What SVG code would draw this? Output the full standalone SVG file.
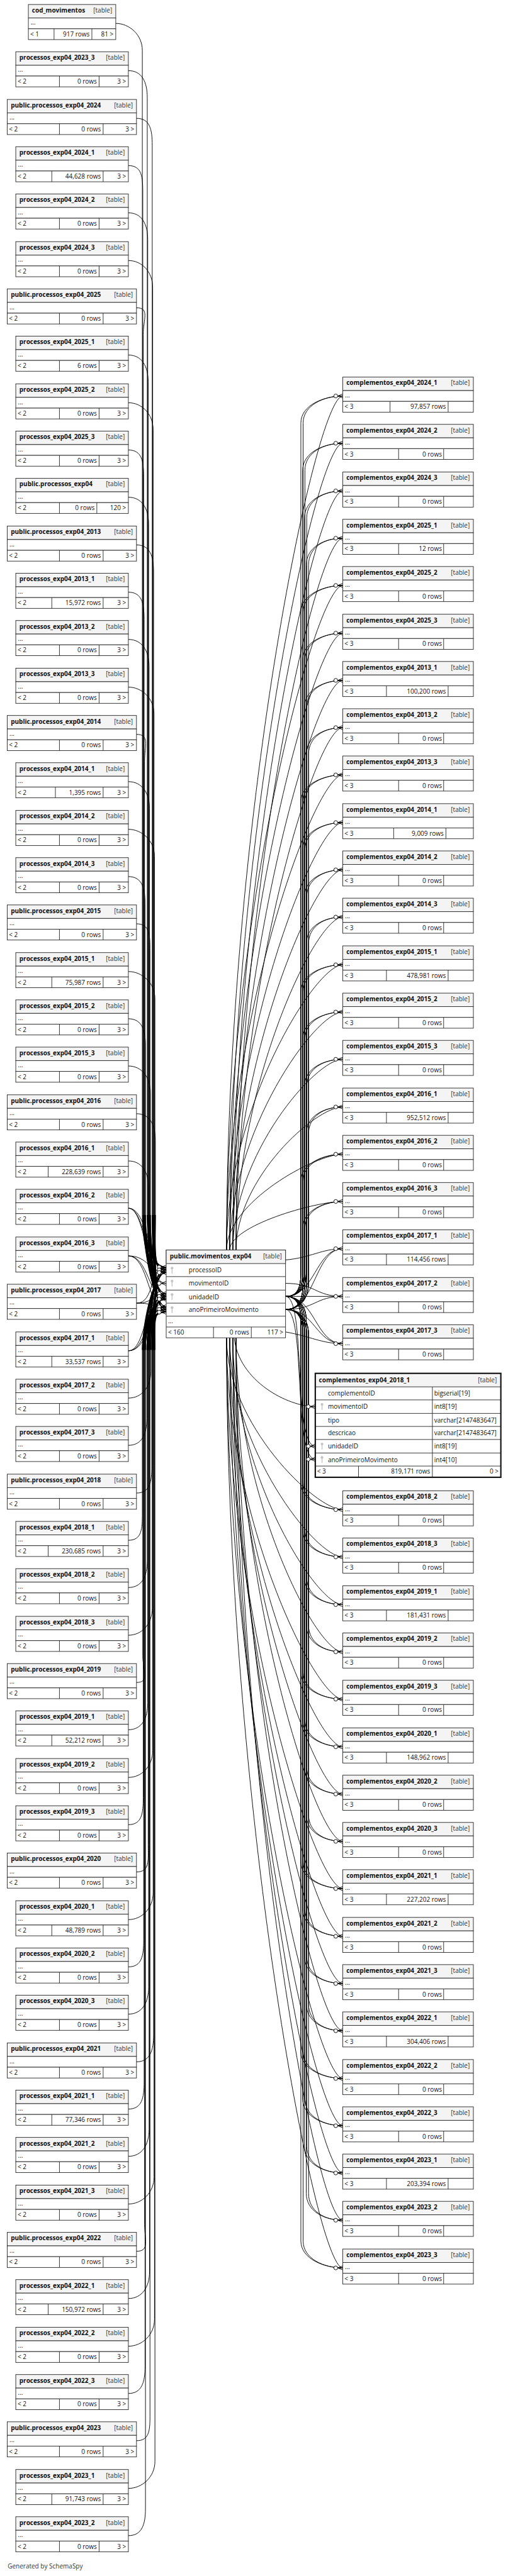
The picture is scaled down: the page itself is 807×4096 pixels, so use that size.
<svg xmlns="http://www.w3.org/2000/svg" xmlns:xlink="http://www.w3.org/1999/xlink" width="807" height="4096" viewBox="0 0 807 4096">
<style>
.h{fill:#f4f4f4;stroke:#2b2b2b;stroke-width:1.3}
.b{fill:#fff;stroke:#2b2b2b;stroke-width:1.3}
.s{fill:none;stroke:#2b2b2b;stroke-width:1.3}
text{font-family:"Open Sans","Noto Sans","Liberation Sans",sans-serif;font-size:14px;fill:#111}
.n{font-weight:bold}
.e{text-anchor:end}
.k{text-anchor:end;fill:#333}
#connectors path{fill:none;stroke:#000;stroke-width:1.3}
</style>
<defs>
<g id="FP0"><rect class="h" width="250" height="30"/><rect class="b" y="30" width="250" height="24"/><rect class="b" y="54" width="250" height="24"/><path class="s" d="M97,54v24M185,54v24"/></g>
<g id="FPN"><rect class="h" width="250" height="30"/><rect class="b" y="30" width="250" height="24"/><rect class="b" y="54" width="250" height="24"/><path class="s" d="M80,54v24M194,54v24"/></g>
<g id="FP6"><rect class="h" width="250" height="30"/><rect class="b" y="30" width="250" height="24"/><rect class="b" y="54" width="250" height="24"/><path class="s" d="M72,54v24M194,54v24"/></g>
<g id="FP4"><rect class="h" width="250" height="30"/><rect class="b" y="30" width="250" height="24"/><rect class="b" y="54" width="250" height="24"/><path class="s" d="M88,54v24M194,54v24"/></g>
<g id="FPX"><rect class="h" width="250" height="30"/><rect class="b" y="30" width="250" height="24"/><rect class="b" y="54" width="250" height="24"/><path class="s" d="M97,54v24M180,54v24"/></g>
<g id="FQ"><rect class="h" width="287" height="30"/><rect class="b" y="30" width="287" height="24"/><rect class="b" y="54" width="287" height="24"/><path class="s" d="M116,54v24M213,54v24"/></g>
<g id="FCOD"><rect class="h" width="194" height="30"/><rect class="b" y="30" width="194" height="24"/><rect class="b" y="54" width="194" height="24"/><path class="s" d="M57,54v24M141,54v24"/></g>
<g id="FC0"><rect class="h" width="290" height="30"/><rect class="b" y="30" width="290" height="24"/><rect class="b" y="54" width="290" height="24"/><path class="s" d="M124,54v24M224,54v24"/></g>
<g id="FCN"><rect class="h" width="290" height="30"/><rect class="b" y="30" width="290" height="24"/><rect class="b" y="54" width="290" height="24"/><path class="s" d="M105,54v24M234,54v24"/></g>
<g id="FC6"><rect class="h" width="290" height="30"/><rect class="b" y="30" width="290" height="24"/><rect class="b" y="54" width="290" height="24"/><path class="s" d="M97,54v24M234,54v24"/></g>
<g id="FC4"><rect class="h" width="290" height="30"/><rect class="b" y="30" width="290" height="24"/><rect class="b" y="54" width="290" height="24"/><path class="s" d="M113,54v24M229,54v24"/></g>
<g id="cf"><path d="M0,-4.5L-11,0L0,4.5M-11,0H0" fill="none" stroke="#000" stroke-width="1.3"/><circle cx="-15.5" cy="0" r="4.3" fill="#fff" stroke="#000" stroke-width="1.3"/></g>
<g id="key" fill="#c4c4c4"><circle cx="0" cy="0" r="3"/><rect x="-1" y="1" width="2" height="11"/></g>
</defs>
<rect width="807" height="4096" fill="#fff"/>
<g transform="scale(0.7155)">
<g id="connectors">
<path d="M257,52C287,52 316,77 316,112V2700C316,2780 340,2852 369,2852"/>
<path d="M285,157C315,157 327,182 327,217V2700C327,2770 340,2822 369,2822M327,2700C327,2770 340,2881 369,2881M327,2700C327,2770 340,2910 369,2910"/>
<path d="M303,263C333,263 338,288 338,323V2700C338,2770 340,2828 369,2828M338,2700C338,2770 340,2887 369,2887M338,2700C338,2770 340,2916 369,2916"/>
<path d="M285,368C315,368 317,393 317,428V2700C317,2770 340,2816 369,2816M317,2700C317,2770 340,2875 369,2875M317,2700C317,2770 340,2904 369,2904"/>
<path d="M285,473C315,473 328,498 328,533V2700C328,2770 340,2822 369,2822M328,2700C328,2770 340,2881 369,2881M328,2700C328,2770 340,2910 369,2910"/>
<path d="M285,579C315,579 339,604 339,639V2700C339,2770 340,2828 369,2828M339,2700C339,2770 340,2887 369,2887M339,2700C339,2770 340,2916 369,2916"/>
<path d="M303,684C333,684 318,709 318,744V2700C318,2770 340,2816 369,2816M318,2700C318,2770 340,2875 369,2875M318,2700C318,2770 340,2904 369,2904"/>
<path d="M285,789C315,789 329,814 329,849V2700C329,2770 340,2822 369,2822M329,2700C329,2770 340,2881 369,2881M329,2700C329,2770 340,2910 369,2910"/>
<path d="M285,895C315,895 340,920 340,955V2700C340,2770 340,2828 369,2828M340,2700C340,2770 340,2887 369,2887M340,2700C340,2770 340,2916 369,2916"/>
<path d="M285,1000C315,1000 319,1025 319,1060V2700C319,2770 340,2816 369,2816M319,2700C319,2770 340,2875 369,2875M319,2700C319,2770 340,2904 369,2904"/>
<path d="M285,1105C315,1105 330,1130 330,1165V2700C330,2770 340,2822 369,2822M330,2700C330,2770 340,2881 369,2881M330,2700C330,2770 340,2910 369,2910"/>
<path d="M303,1211C333,1211 341,1236 341,1271V2700C341,2770 340,2828 369,2828M341,2700C341,2770 340,2887 369,2887M341,2700C341,2770 340,2916 369,2916"/>
<path d="M285,1316C315,1316 320,1341 320,1376V2700C320,2770 340,2816 369,2816M320,2700C320,2770 340,2875 369,2875M320,2700C320,2770 340,2904 369,2904"/>
<path d="M285,1421C315,1421 331,1446 331,1481V2700C331,2770 340,2822 369,2822M331,2700C331,2770 340,2881 369,2881M331,2700C331,2770 340,2910 369,2910"/>
<path d="M285,1527C315,1527 342,1552 342,1587V2700C342,2770 340,2828 369,2828M342,2700C342,2770 340,2887 369,2887M342,2700C342,2770 340,2916 369,2916"/>
<path d="M303,1632C333,1632 321,1657 321,1692V2700C321,2770 340,2816 369,2816M321,2700C321,2770 340,2875 369,2875M321,2700C321,2770 340,2904 369,2904"/>
<path d="M285,1737C315,1737 332,1762 332,1797V2700C332,2770 340,2822 369,2822M332,2700C332,2770 340,2881 369,2881M332,2700C332,2770 340,2910 369,2910"/>
<path d="M285,1843C315,1843 343,1868 343,1903V2700C343,2770 340,2828 369,2828M343,2700C343,2770 340,2887 369,2887M343,2700C343,2770 340,2916 369,2916"/>
<path d="M285,1948C315,1948 322,1973 322,2008V2700C322,2770 340,2816 369,2816M322,2700C322,2770 340,2875 369,2875M322,2700C322,2770 340,2904 369,2904"/>
<path d="M303,2053C333,2053 333,2078 333,2113V2700C333,2770 340,2822 369,2822M333,2700C333,2770 340,2881 369,2881M333,2700C333,2770 340,2910 369,2910"/>
<path d="M285,2159C315,2159 344,2184 344,2219V2700C344,2770 340,2828 369,2828M344,2700C344,2770 340,2887 369,2887M344,2700C344,2770 340,2916 369,2916"/>
<path d="M285,2264C315,2264 323,2289 323,2324V2700C323,2770 340,2816 369,2816M323,2700C323,2770 340,2875 369,2875M323,2700C323,2770 340,2904 369,2904"/>
<path d="M285,2369C315,2369 334,2394 334,2429V2700C334,2770 340,2822 369,2822M334,2700C334,2770 340,2881 369,2881M334,2700C334,2770 340,2910 369,2910"/>
<path d="M303,2475C333,2475 345,2500 345,2535V2700C345,2770 340,2828 369,2828M345,2700C345,2770 340,2887 369,2887M345,2700C345,2770 340,2916 369,2916"/>
<path d="M285,2580C315,2580 330,2605 330,2640V2700C330,2770 340,2816 369,2816M330,2700C330,2770 340,2875 369,2875M330,2700C330,2770 340,2904 369,2904"/>
<path d="M285,2685C330,2685 330,2822 369,2822M285,2685C330,2685 330,2881 369,2881M285,2685C330,2685 330,2910 369,2910"/>
<path d="M285,2791C330,2791 330,2828 369,2828M285,2791C330,2791 330,2887 369,2887M285,2791C330,2791 330,2916 369,2916"/>
<path d="M303,2896C345,2896 330,2816 369,2816M303,2896C345,2896 330,2875 369,2875M303,2896C345,2896 330,2904 369,2904"/>
<path d="M285,3002C330,3002 330,2822 369,2822M285,3002C330,3002 330,2881 369,2881M285,3002C330,3002 330,2910 369,2910"/>
<path d="M285,3107C315,3107 335,3082 335,3047V3000C335,2940 340,2828 369,2828M335,3000C335,2940 340,2887 369,2887M335,3000C335,2940 340,2916 369,2916"/>
<path d="M285,3212C315,3212 326,3187 326,3152V3000C326,2940 340,2816 369,2816M326,3000C326,2940 340,2875 369,2875M326,3000C326,2940 340,2904 369,2904"/>
<path d="M303,3318C333,3318 337,3293 337,3258V3000C337,2940 340,2822 369,2822M337,3000C337,2940 340,2881 369,2881M337,3000C337,2940 340,2910 369,2910"/>
<path d="M285,3423C315,3423 316,3398 316,3363V3000C316,2940 340,2828 369,2828M316,3000C316,2940 340,2887 369,2887M316,3000C316,2940 340,2916 369,2916"/>
<path d="M285,3528C315,3528 327,3503 327,3468V3000C327,2940 340,2816 369,2816M327,3000C327,2940 340,2875 369,2875M327,3000C327,2940 340,2904 369,2904"/>
<path d="M285,3634C315,3634 338,3609 338,3574V3000C338,2940 340,2822 369,2822M338,3000C338,2940 340,2881 369,2881M338,3000C338,2940 340,2910 369,2910"/>
<path d="M303,3739C333,3739 317,3714 317,3679V3000C317,2940 340,2828 369,2828M317,3000C317,2940 340,2887 369,2887M317,3000C317,2940 340,2916 369,2916"/>
<path d="M285,3844C315,3844 328,3819 328,3784V3000C328,2940 340,2816 369,2816M328,3000C328,2940 340,2875 369,2875M328,3000C328,2940 340,2904 369,2904"/>
<path d="M285,3950C315,3950 339,3925 339,3890V3000C339,2940 340,2822 369,2822M339,3000C339,2940 340,2881 369,2881M339,3000C339,2940 340,2910 369,2910"/>
<path d="M285,4055C315,4055 318,4030 318,3995V3000C318,2940 340,2828 369,2828M318,3000C318,2940 340,2887 369,2887M318,3000C318,2940 340,2916 369,2916"/>
<path d="M303,4160C333,4160 329,4135 329,4100V3000C329,2940 340,2816 369,2816M329,3000C329,2940 340,2875 369,2875M329,3000C329,2940 340,2904 369,2904"/>
<path d="M285,4266C315,4266 340,4241 340,4206V3000C340,2940 340,2822 369,2822M340,3000C340,2940 340,2881 369,2881M340,3000C340,2940 340,2910 369,2910"/>
<path d="M285,4371C315,4371 319,4346 319,4311V3000C319,2940 340,2828 369,2828M319,3000C319,2940 340,2887 369,2887M319,3000C319,2940 340,2916 369,2916"/>
<path d="M285,4476C315,4476 330,4451 330,4416V3000C330,2940 340,2816 369,2816M330,3000C330,2940 340,2875 369,2875M330,3000C330,2940 340,2904 369,2904"/>
<path d="M303,4582C333,4582 341,4557 341,4522V3000C341,2940 340,2822 369,2822M341,3000C341,2940 340,2881 369,2881M341,3000C341,2940 340,2910 369,2910"/>
<path d="M285,4687C315,4687 320,4662 320,4627V3000C320,2940 340,2828 369,2828M320,3000C320,2940 340,2887 369,2887M320,3000C320,2940 340,2916 369,2916"/>
<path d="M285,4792C315,4792 331,4767 331,4732V3000C331,2940 340,2816 369,2816M331,3000C331,2940 340,2875 369,2875M331,3000C331,2940 340,2904 369,2904"/>
<path d="M285,4898C315,4898 342,4873 342,4838V3000C342,2940 340,2822 369,2822M342,3000C342,2940 340,2881 369,2881M342,3000C342,2940 340,2910 369,2910"/>
<path d="M303,5003C333,5003 321,4978 321,4943V3000C321,2940 340,2828 369,2828M321,3000C321,2940 340,2887 369,2887M321,3000C321,2940 340,2916 369,2916"/>
<path d="M285,5108C315,5108 332,5083 332,5048V3000C332,2940 340,2816 369,2816M332,3000C332,2940 340,2875 369,2875M332,3000C332,2940 340,2904 369,2904"/>
<path d="M285,5214C315,5214 343,5189 343,5154V3000C343,2940 340,2822 369,2822M343,3000C343,2940 340,2881 369,2881M343,3000C343,2940 340,2910 369,2910"/>
<path d="M285,5319C315,5319 322,5294 322,5259V3000C322,2940 340,2828 369,2828M322,3000C322,2940 340,2887 369,2887M322,3000C322,2940 340,2916 369,2916"/>
<path d="M303,5424C333,5424 333,5399 333,5364V3000C333,2940 340,2816 369,2816M333,3000C333,2940 340,2875 369,2875M333,3000C333,2940 340,2904 369,2904"/>
<path d="M285,5530C315,5530 344,5505 344,5470V3000C344,2940 340,2822 369,2822M344,3000C344,2940 340,2881 369,2881M344,3000C344,2940 340,2910 369,2910"/>
<path d="M285,5635C315,5635 323,5610 323,5575V3000C323,2940 340,2828 369,2828M323,3000C323,2940 340,2887 369,2887M323,3000C323,2940 340,2916 369,2916"/>
<path d="M503,2778C503,1829 700,880 761,880M634,2881C655,2881 668,2870 668,2830V940C668,900 720,880 761,880M634,2910C658,2910 673,2895 673,2850V940C673,900 720,880 761,880"/>
<path d="M510,2778C510,1882 700,985 761,985M634,2881C655,2881 672,2870 672,2830V1045C672,1005 720,985 761,985M634,2910C658,2910 677,2895 677,2850V1045C677,1005 720,985 761,985"/>
<path d="M517,2778C517,1935 700,1091 761,1091M634,2881C655,2881 676,2870 676,2830V1151C676,1111 720,1091 761,1091M634,2910C658,2910 681,2895 681,2850V1151C681,1111 720,1091 761,1091"/>
<path d="M524,2778C524,1987 700,1196 761,1196M634,2881C655,2881 680,2870 680,2830V1256C680,1216 720,1196 761,1196M634,2910C658,2910 685,2895 685,2850V1256C685,1216 720,1196 761,1196"/>
<path d="M503,2778C503,2040 700,1301 761,1301M634,2881C655,2881 668,2870 668,2830V1361C668,1321 720,1301 761,1301M634,2910C658,2910 673,2895 673,2850V1361C673,1321 720,1301 761,1301"/>
<path d="M510,2778C510,2093 700,1407 761,1407M634,2881C655,2881 672,2870 672,2830V1467C672,1427 720,1407 761,1407M634,2910C658,2910 677,2895 677,2850V1467C677,1427 720,1407 761,1407"/>
<path d="M517,2778C517,2145 700,1512 761,1512M634,2881C655,2881 676,2870 676,2830V1572C676,1532 720,1512 761,1512M634,2910C658,2910 681,2895 681,2850V1572C681,1532 720,1512 761,1512"/>
<path d="M524,2778C524,2198 700,1617 761,1617M634,2881C655,2881 680,2870 680,2830V1677C680,1637 720,1617 761,1617M634,2910C658,2910 685,2895 685,2850V1677C685,1637 720,1617 761,1617"/>
<path d="M503,2778C503,2250 700,1722 761,1722M634,2881C655,2881 668,2870 668,2830V1782C668,1742 720,1722 761,1722M634,2910C658,2910 673,2895 673,2850V1782C673,1742 720,1722 761,1722"/>
<path d="M510,2778C510,2303 700,1828 761,1828M634,2881C655,2881 672,2870 672,2830V1888C672,1848 720,1828 761,1828M634,2910C658,2910 677,2895 677,2850V1888C677,1848 720,1828 761,1828"/>
<path d="M517,2778C517,2356 700,1933 761,1933M634,2881C655,2881 676,2870 676,2830V1993C676,1953 720,1933 761,1933M634,2910C658,2910 681,2895 681,2850V1993C681,1953 720,1933 761,1933"/>
<path d="M524,2778C524,2408 700,2038 761,2038M634,2881C655,2881 680,2870 680,2830V2098C680,2058 720,2038 761,2038M634,2910C658,2910 685,2895 685,2850V2098C685,2058 720,2038 761,2038"/>
<path d="M503,2778C503,2461 700,2144 761,2144M634,2881C655,2881 668,2870 668,2830V2204C668,2164 720,2144 761,2144M634,2910C658,2910 673,2895 673,2850V2204C673,2164 720,2144 761,2144"/>
<path d="M510,2778C510,2514 700,2249 761,2249M634,2881C655,2881 672,2870 672,2830V2309C672,2269 720,2249 761,2249M634,2910C658,2910 677,2895 677,2850V2309C677,2269 720,2249 761,2249"/>
<path d="M517,2778C517,2566 700,2354 761,2354M634,2881C655,2881 676,2870 676,2830V2414C676,2374 720,2354 761,2354M634,2910C658,2910 681,2895 681,2850V2414C681,2374 720,2354 761,2354"/>
<path d="M524,2778C524,2619 700,2460 761,2460M634,2881C655,2881 680,2870 680,2830V2520C680,2480 720,2460 761,2460M634,2910C658,2910 685,2895 685,2850V2520C685,2480 720,2460 761,2460"/>
<path d="M503,2778C503,2672 700,2565 761,2565M634,2881C655,2881 668,2870 668,2830V2625C668,2585 720,2565 761,2565M634,2910C658,2910 673,2895 673,2850V2625C673,2585 720,2565 761,2565"/>
<path d="M510,2778C510,2724 700,2670 761,2670M634,2881C655,2881 672,2870 672,2830V2730C672,2690 720,2670 761,2670M634,2910C658,2910 677,2895 677,2850V2730C677,2690 720,2670 761,2670"/>
<path d="M634,2800C690,2795 715,2775 761,2775M634,2881C700,2881 700,2775 761,2775M634,2910C700,2910 700,2775 761,2775"/>
<path d="M634,2852C700,2852 700,2881 761,2881M634,2881H761M634,2910C700,2910 700,2881 761,2881"/>
<path d="M634,2960C690,2970 715,2986 761,2986M634,2881C700,2881 700,2986 761,2986M634,2910C700,2910 700,2986 761,2986"/>
<path d="M520,2973C530,3070 640,3126 700,3126M634,2881C680,2881 650,3214 700,3214M634,2910C680,2910 650,3243 700,3243"/>
<path d="M503,2973C503,3164 700,3355 761,3355M634,2881C655,2881 668,2895 668,2935V3295C668,3335 720,3355 761,3355M634,2910C658,2910 673,2925 673,2965V3295C673,3335 720,3355 761,3355"/>
<path d="M510,2973C510,3217 700,3460 761,3460M634,2881C655,2881 672,2895 672,2935V3400C672,3440 720,3460 761,3460M634,2910C658,2910 677,2925 677,2965V3400C677,3440 720,3460 761,3460"/>
<path d="M517,2973C517,3270 700,3566 761,3566M634,2881C655,2881 676,2895 676,2935V3506C676,3546 720,3566 761,3566M634,2910C658,2910 681,2925 681,2965V3506C681,3546 720,3566 761,3566"/>
<path d="M524,2973C524,3322 700,3671 761,3671M634,2881C655,2881 680,2895 680,2935V3611C680,3651 720,3671 761,3671M634,2910C658,2910 685,2925 685,2965V3611C685,3651 720,3671 761,3671"/>
<path d="M503,2973C503,3375 700,3776 761,3776M634,2881C655,2881 668,2895 668,2935V3716C668,3756 720,3776 761,3776M634,2910C658,2910 673,2925 673,2965V3716C673,3756 720,3776 761,3776"/>
<path d="M510,2973C510,3428 700,3882 761,3882M634,2881C655,2881 672,2895 672,2935V3822C672,3862 720,3882 761,3882M634,2910C658,2910 677,2925 677,2965V3822C677,3862 720,3882 761,3882"/>
<path d="M517,2973C517,3480 700,3987 761,3987M634,2881C655,2881 676,2895 676,2935V3927C676,3967 720,3987 761,3987M634,2910C658,2910 681,2925 681,2965V3927C681,3967 720,3987 761,3987"/>
<path d="M524,2973C524,3533 700,4092 761,4092M634,2881C655,2881 680,2895 680,2935V4032C680,4072 720,4092 761,4092M634,2910C658,2910 685,2925 685,2965V4032C685,4072 720,4092 761,4092"/>
<path d="M503,2973C503,3585 700,4197 761,4197M634,2881C655,2881 668,2895 668,2935V4137C668,4177 720,4197 761,4197M634,2910C658,2910 673,2925 673,2965V4137C673,4177 720,4197 761,4197"/>
<path d="M510,2973C510,3638 700,4303 761,4303M634,2881C655,2881 672,2895 672,2935V4243C672,4283 720,4303 761,4303M634,2910C658,2910 677,2925 677,2965V4243C677,4283 720,4303 761,4303"/>
<path d="M517,2973C517,3691 700,4408 761,4408M634,2881C655,2881 676,2895 676,2935V4348C676,4388 720,4408 761,4408M634,2910C658,2910 681,2925 681,2965V4348C681,4388 720,4408 761,4408"/>
<path d="M524,2973C524,3743 700,4513 761,4513M634,2881C655,2881 680,2895 680,2935V4453C680,4493 720,4513 761,4513M634,2910C658,2910 685,2925 685,2965V4453C685,4493 720,4513 761,4513"/>
<path d="M503,2973C503,3796 700,4619 761,4619M634,2881C655,2881 668,2895 668,2935V4559C668,4599 720,4619 761,4619M634,2910C658,2910 673,2925 673,2965V4559C673,4599 720,4619 761,4619"/>
<path d="M510,2973C510,3849 700,4724 761,4724M634,2881C655,2881 672,2895 672,2935V4664C672,4704 720,4724 761,4724M634,2910C658,2910 677,2925 677,2965V4664C677,4704 720,4724 761,4724"/>
<path d="M517,2973C517,3901 700,4829 761,4829M634,2881C655,2881 676,2895 676,2935V4769C676,4809 720,4829 761,4829M634,2910C658,2910 681,2925 681,2965V4769C681,4809 720,4829 761,4829"/>
<path d="M524,2973C524,3954 700,4934 761,4934M634,2881C655,2881 680,2895 680,2935V4874C680,4914 720,4934 761,4934M634,2910C658,2910 685,2925 685,2965V4874C685,4914 720,4934 761,4934"/>
<path d="M503,2973C503,4007 700,5040 761,5040M634,2881C655,2881 668,2895 668,2935V4980C668,5020 720,5040 761,5040M634,2910C658,2910 673,2925 673,2965V4980C673,5020 720,5040 761,5040"/>
<use href="#cf" x="369" y="2816"/><use href="#cf" x="369" y="2822"/><use href="#cf" x="369" y="2828"/><use href="#cf" x="369" y="2852"/><use href="#cf" x="369" y="2875"/><use href="#cf" x="369" y="2881"/><use href="#cf" x="369" y="2887"/><use href="#cf" x="369" y="2904"/><use href="#cf" x="369" y="2910"/><use href="#cf" x="369" y="2916"/>
<use href="#cf" x="761" y="880"/><use href="#cf" x="761" y="985"/><use href="#cf" x="761" y="1091"/><use href="#cf" x="761" y="1196"/><use href="#cf" x="761" y="1301"/><use href="#cf" x="761" y="1407"/><use href="#cf" x="761" y="1512"/><use href="#cf" x="761" y="1617"/><use href="#cf" x="761" y="1722"/><use href="#cf" x="761" y="1828"/><use href="#cf" x="761" y="1933"/><use href="#cf" x="761" y="2038"/><use href="#cf" x="761" y="2144"/><use href="#cf" x="761" y="2249"/><use href="#cf" x="761" y="2354"/><use href="#cf" x="761" y="2460"/><use href="#cf" x="761" y="2565"/><use href="#cf" x="761" y="2670"/><use href="#cf" x="761" y="2775"/><use href="#cf" x="761" y="2881"/><use href="#cf" x="761" y="2986"/>
<use href="#cf" x="700" y="3126"/><use href="#cf" x="700" y="3214"/><use href="#cf" x="700" y="3243"/>
<use href="#cf" x="761" y="3355"/><use href="#cf" x="761" y="3460"/><use href="#cf" x="761" y="3566"/><use href="#cf" x="761" y="3671"/><use href="#cf" x="761" y="3776"/><use href="#cf" x="761" y="3882"/><use href="#cf" x="761" y="3987"/><use href="#cf" x="761" y="4092"/><use href="#cf" x="761" y="4197"/><use href="#cf" x="761" y="4303"/><use href="#cf" x="761" y="4408"/><use href="#cf" x="761" y="4513"/><use href="#cf" x="761" y="4619"/><use href="#cf" x="761" y="4724"/><use href="#cf" x="761" y="4829"/><use href="#cf" x="761" y="4934"/><use href="#cf" x="761" y="5040"/>
</g>
<g id="nodes">
<g id="cod_movimentos" transform="translate(63,10)"><use href="#FCOD"/><text class="n" x="8" y="18">cod_movimentos</text><text class="k" x="186" y="18">[table]</text><text x="5" y="45">...</text><text x="4" y="71">&lt; 1</text><text class="e" x="136" y="71">917 rows</text><text class="e" x="189" y="71">81 &gt;</text></g>
<g id="processos_exp04_2023_3" transform="translate(35,115)"><use href="#FP0"/><text class="n" x="8" y="18">processos_exp04_2023_3</text><text class="k" x="242" y="18">[table]</text><text x="5" y="45">...</text><text x="4" y="71">&lt; 2</text><text class="e" x="180" y="71">0 rows</text><text class="e" x="245" y="71">3 &gt;</text></g>
<g id="public.processos_exp04_2024" transform="translate(16,221)"><use href="#FQ"/><text class="n" x="8" y="18">public.processos_exp04_2024</text><text class="k" x="279" y="18">[table]</text><text x="5" y="45">...</text><text x="4" y="71">&lt; 2</text><text class="e" x="208" y="71">0 rows</text><text class="e" x="282" y="71">3 &gt;</text></g>
<g id="processos_exp04_2024_1" transform="translate(35,326)"><use href="#FPN"/><text class="n" x="8" y="18">processos_exp04_2024_1</text><text class="k" x="242" y="18">[table]</text><text x="5" y="45">...</text><text x="4" y="71">&lt; 2</text><text class="e" x="189" y="71">44,628 rows</text><text class="e" x="245" y="71">3 &gt;</text></g>
<g id="processos_exp04_2024_2" transform="translate(35,431)"><use href="#FP0"/><text class="n" x="8" y="18">processos_exp04_2024_2</text><text class="k" x="242" y="18">[table]</text><text x="5" y="45">...</text><text x="4" y="71">&lt; 2</text><text class="e" x="180" y="71">0 rows</text><text class="e" x="245" y="71">3 &gt;</text></g>
<g id="processos_exp04_2024_3" transform="translate(35,537)"><use href="#FP0"/><text class="n" x="8" y="18">processos_exp04_2024_3</text><text class="k" x="242" y="18">[table]</text><text x="5" y="45">...</text><text x="4" y="71">&lt; 2</text><text class="e" x="180" y="71">0 rows</text><text class="e" x="245" y="71">3 &gt;</text></g>
<g id="public.processos_exp04_2025" transform="translate(16,642)"><use href="#FQ"/><text class="n" x="8" y="18">public.processos_exp04_2025</text><text class="k" x="279" y="18">[table]</text><text x="5" y="45">...</text><text x="4" y="71">&lt; 2</text><text class="e" x="208" y="71">0 rows</text><text class="e" x="282" y="71">3 &gt;</text></g>
<g id="processos_exp04_2025_1" transform="translate(35,747)"><use href="#FP0"/><text class="n" x="8" y="18">processos_exp04_2025_1</text><text class="k" x="242" y="18">[table]</text><text x="5" y="45">...</text><text x="4" y="71">&lt; 2</text><text class="e" x="180" y="71">6 rows</text><text class="e" x="245" y="71">3 &gt;</text></g>
<g id="processos_exp04_2025_2" transform="translate(35,853)"><use href="#FP0"/><text class="n" x="8" y="18">processos_exp04_2025_2</text><text class="k" x="242" y="18">[table]</text><text x="5" y="45">...</text><text x="4" y="71">&lt; 2</text><text class="e" x="180" y="71">0 rows</text><text class="e" x="245" y="71">3 &gt;</text></g>
<g id="processos_exp04_2025_3" transform="translate(35,958)"><use href="#FP0"/><text class="n" x="8" y="18">processos_exp04_2025_3</text><text class="k" x="242" y="18">[table]</text><text x="5" y="45">...</text><text x="4" y="71">&lt; 2</text><text class="e" x="180" y="71">0 rows</text><text class="e" x="245" y="71">3 &gt;</text></g>
<g id="public.processos_exp04" transform="translate(35,1063)"><use href="#FPX"/><text class="n" x="8" y="18">public.processos_exp04</text><text class="k" x="242" y="18">[table]</text><text x="5" y="45">...</text><text x="4" y="71">&lt; 2</text><text class="e" x="175" y="71">0 rows</text><text class="e" x="245" y="71">120 &gt;</text></g>
<g id="public.processos_exp04_2013" transform="translate(16,1169)"><use href="#FQ"/><text class="n" x="8" y="18">public.processos_exp04_2013</text><text class="k" x="279" y="18">[table]</text><text x="5" y="45">...</text><text x="4" y="71">&lt; 2</text><text class="e" x="208" y="71">0 rows</text><text class="e" x="282" y="71">3 &gt;</text></g>
<g id="processos_exp04_2013_1" transform="translate(35,1274)"><use href="#FPN"/><text class="n" x="8" y="18">processos_exp04_2013_1</text><text class="k" x="242" y="18">[table]</text><text x="5" y="45">...</text><text x="4" y="71">&lt; 2</text><text class="e" x="189" y="71">15,972 rows</text><text class="e" x="245" y="71">3 &gt;</text></g>
<g id="processos_exp04_2013_2" transform="translate(35,1379)"><use href="#FP0"/><text class="n" x="8" y="18">processos_exp04_2013_2</text><text class="k" x="242" y="18">[table]</text><text x="5" y="45">...</text><text x="4" y="71">&lt; 2</text><text class="e" x="180" y="71">0 rows</text><text class="e" x="245" y="71">3 &gt;</text></g>
<g id="processos_exp04_2013_3" transform="translate(35,1485)"><use href="#FP0"/><text class="n" x="8" y="18">processos_exp04_2013_3</text><text class="k" x="242" y="18">[table]</text><text x="5" y="45">...</text><text x="4" y="71">&lt; 2</text><text class="e" x="180" y="71">0 rows</text><text class="e" x="245" y="71">3 &gt;</text></g>
<g id="public.processos_exp04_2014" transform="translate(16,1590)"><use href="#FQ"/><text class="n" x="8" y="18">public.processos_exp04_2014</text><text class="k" x="279" y="18">[table]</text><text x="5" y="45">...</text><text x="4" y="71">&lt; 2</text><text class="e" x="208" y="71">0 rows</text><text class="e" x="282" y="71">3 &gt;</text></g>
<g id="processos_exp04_2014_1" transform="translate(35,1695)"><use href="#FP4"/><text class="n" x="8" y="18">processos_exp04_2014_1</text><text class="k" x="242" y="18">[table]</text><text x="5" y="45">...</text><text x="4" y="71">&lt; 2</text><text class="e" x="189" y="71">1,395 rows</text><text class="e" x="245" y="71">3 &gt;</text></g>
<g id="processos_exp04_2014_2" transform="translate(35,1801)"><use href="#FP0"/><text class="n" x="8" y="18">processos_exp04_2014_2</text><text class="k" x="242" y="18">[table]</text><text x="5" y="45">...</text><text x="4" y="71">&lt; 2</text><text class="e" x="180" y="71">0 rows</text><text class="e" x="245" y="71">3 &gt;</text></g>
<g id="processos_exp04_2014_3" transform="translate(35,1906)"><use href="#FP0"/><text class="n" x="8" y="18">processos_exp04_2014_3</text><text class="k" x="242" y="18">[table]</text><text x="5" y="45">...</text><text x="4" y="71">&lt; 2</text><text class="e" x="180" y="71">0 rows</text><text class="e" x="245" y="71">3 &gt;</text></g>
<g id="public.processos_exp04_2015" transform="translate(16,2011)"><use href="#FQ"/><text class="n" x="8" y="18">public.processos_exp04_2015</text><text class="k" x="279" y="18">[table]</text><text x="5" y="45">...</text><text x="4" y="71">&lt; 2</text><text class="e" x="208" y="71">0 rows</text><text class="e" x="282" y="71">3 &gt;</text></g>
<g id="processos_exp04_2015_1" transform="translate(35,2117)"><use href="#FPN"/><text class="n" x="8" y="18">processos_exp04_2015_1</text><text class="k" x="242" y="18">[table]</text><text x="5" y="45">...</text><text x="4" y="71">&lt; 2</text><text class="e" x="189" y="71">75,987 rows</text><text class="e" x="245" y="71">3 &gt;</text></g>
<g id="processos_exp04_2015_2" transform="translate(35,2222)"><use href="#FP0"/><text class="n" x="8" y="18">processos_exp04_2015_2</text><text class="k" x="242" y="18">[table]</text><text x="5" y="45">...</text><text x="4" y="71">&lt; 2</text><text class="e" x="180" y="71">0 rows</text><text class="e" x="245" y="71">3 &gt;</text></g>
<g id="processos_exp04_2015_3" transform="translate(35,2327)"><use href="#FP0"/><text class="n" x="8" y="18">processos_exp04_2015_3</text><text class="k" x="242" y="18">[table]</text><text x="5" y="45">...</text><text x="4" y="71">&lt; 2</text><text class="e" x="180" y="71">0 rows</text><text class="e" x="245" y="71">3 &gt;</text></g>
<g id="public.processos_exp04_2016" transform="translate(16,2433)"><use href="#FQ"/><text class="n" x="8" y="18">public.processos_exp04_2016</text><text class="k" x="279" y="18">[table]</text><text x="5" y="45">...</text><text x="4" y="71">&lt; 2</text><text class="e" x="208" y="71">0 rows</text><text class="e" x="282" y="71">3 &gt;</text></g>
<g id="processos_exp04_2016_1" transform="translate(35,2538)"><use href="#FP6"/><text class="n" x="8" y="18">processos_exp04_2016_1</text><text class="k" x="242" y="18">[table]</text><text x="5" y="45">...</text><text x="4" y="71">&lt; 2</text><text class="e" x="189" y="71">228,639 rows</text><text class="e" x="245" y="71">3 &gt;</text></g>
<g id="processos_exp04_2016_2" transform="translate(35,2643)"><use href="#FP0"/><text class="n" x="8" y="18">processos_exp04_2016_2</text><text class="k" x="242" y="18">[table]</text><text x="5" y="45">...</text><text x="4" y="71">&lt; 2</text><text class="e" x="180" y="71">0 rows</text><text class="e" x="245" y="71">3 &gt;</text></g>
<g id="processos_exp04_2016_3" transform="translate(35,2749)"><use href="#FP0"/><text class="n" x="8" y="18">processos_exp04_2016_3</text><text class="k" x="242" y="18">[table]</text><text x="5" y="45">...</text><text x="4" y="71">&lt; 2</text><text class="e" x="180" y="71">0 rows</text><text class="e" x="245" y="71">3 &gt;</text></g>
<g id="public.processos_exp04_2017" transform="translate(16,2854)"><use href="#FQ"/><text class="n" x="8" y="18">public.processos_exp04_2017</text><text class="k" x="279" y="18">[table]</text><text x="5" y="45">...</text><text x="4" y="71">&lt; 2</text><text class="e" x="208" y="71">0 rows</text><text class="e" x="282" y="71">3 &gt;</text></g>
<g id="processos_exp04_2017_1" transform="translate(35,2960)"><use href="#FPN"/><text class="n" x="8" y="18">processos_exp04_2017_1</text><text class="k" x="242" y="18">[table]</text><text x="5" y="45">...</text><text x="4" y="71">&lt; 2</text><text class="e" x="189" y="71">33,537 rows</text><text class="e" x="245" y="71">3 &gt;</text></g>
<g id="processos_exp04_2017_2" transform="translate(35,3065)"><use href="#FP0"/><text class="n" x="8" y="18">processos_exp04_2017_2</text><text class="k" x="242" y="18">[table]</text><text x="5" y="45">...</text><text x="4" y="71">&lt; 2</text><text class="e" x="180" y="71">0 rows</text><text class="e" x="245" y="71">3 &gt;</text></g>
<g id="processos_exp04_2017_3" transform="translate(35,3170)"><use href="#FP0"/><text class="n" x="8" y="18">processos_exp04_2017_3</text><text class="k" x="242" y="18">[table]</text><text x="5" y="45">...</text><text x="4" y="71">&lt; 2</text><text class="e" x="180" y="71">0 rows</text><text class="e" x="245" y="71">3 &gt;</text></g>
<g id="public.processos_exp04_2018" transform="translate(16,3276)"><use href="#FQ"/><text class="n" x="8" y="18">public.processos_exp04_2018</text><text class="k" x="279" y="18">[table]</text><text x="5" y="45">...</text><text x="4" y="71">&lt; 2</text><text class="e" x="208" y="71">0 rows</text><text class="e" x="282" y="71">3 &gt;</text></g>
<g id="processos_exp04_2018_1" transform="translate(35,3381)"><use href="#FP6"/><text class="n" x="8" y="18">processos_exp04_2018_1</text><text class="k" x="242" y="18">[table]</text><text x="5" y="45">...</text><text x="4" y="71">&lt; 2</text><text class="e" x="189" y="71">230,685 rows</text><text class="e" x="245" y="71">3 &gt;</text></g>
<g id="processos_exp04_2018_2" transform="translate(35,3486)"><use href="#FP0"/><text class="n" x="8" y="18">processos_exp04_2018_2</text><text class="k" x="242" y="18">[table]</text><text x="5" y="45">...</text><text x="4" y="71">&lt; 2</text><text class="e" x="180" y="71">0 rows</text><text class="e" x="245" y="71">3 &gt;</text></g>
<g id="processos_exp04_2018_3" transform="translate(35,3592)"><use href="#FP0"/><text class="n" x="8" y="18">processos_exp04_2018_3</text><text class="k" x="242" y="18">[table]</text><text x="5" y="45">...</text><text x="4" y="71">&lt; 2</text><text class="e" x="180" y="71">0 rows</text><text class="e" x="245" y="71">3 &gt;</text></g>
<g id="public.processos_exp04_2019" transform="translate(16,3697)"><use href="#FQ"/><text class="n" x="8" y="18">public.processos_exp04_2019</text><text class="k" x="279" y="18">[table]</text><text x="5" y="45">...</text><text x="4" y="71">&lt; 2</text><text class="e" x="208" y="71">0 rows</text><text class="e" x="282" y="71">3 &gt;</text></g>
<g id="processos_exp04_2019_1" transform="translate(35,3802)"><use href="#FPN"/><text class="n" x="8" y="18">processos_exp04_2019_1</text><text class="k" x="242" y="18">[table]</text><text x="5" y="45">...</text><text x="4" y="71">&lt; 2</text><text class="e" x="189" y="71">52,212 rows</text><text class="e" x="245" y="71">3 &gt;</text></g>
<g id="processos_exp04_2019_2" transform="translate(35,3908)"><use href="#FP0"/><text class="n" x="8" y="18">processos_exp04_2019_2</text><text class="k" x="242" y="18">[table]</text><text x="5" y="45">...</text><text x="4" y="71">&lt; 2</text><text class="e" x="180" y="71">0 rows</text><text class="e" x="245" y="71">3 &gt;</text></g>
<g id="processos_exp04_2019_3" transform="translate(35,4013)"><use href="#FP0"/><text class="n" x="8" y="18">processos_exp04_2019_3</text><text class="k" x="242" y="18">[table]</text><text x="5" y="45">...</text><text x="4" y="71">&lt; 2</text><text class="e" x="180" y="71">0 rows</text><text class="e" x="245" y="71">3 &gt;</text></g>
<g id="public.processos_exp04_2020" transform="translate(16,4118)"><use href="#FQ"/><text class="n" x="8" y="18">public.processos_exp04_2020</text><text class="k" x="279" y="18">[table]</text><text x="5" y="45">...</text><text x="4" y="71">&lt; 2</text><text class="e" x="208" y="71">0 rows</text><text class="e" x="282" y="71">3 &gt;</text></g>
<g id="processos_exp04_2020_1" transform="translate(35,4224)"><use href="#FPN"/><text class="n" x="8" y="18">processos_exp04_2020_1</text><text class="k" x="242" y="18">[table]</text><text x="5" y="45">...</text><text x="4" y="71">&lt; 2</text><text class="e" x="189" y="71">48,789 rows</text><text class="e" x="245" y="71">3 &gt;</text></g>
<g id="processos_exp04_2020_2" transform="translate(35,4329)"><use href="#FP0"/><text class="n" x="8" y="18">processos_exp04_2020_2</text><text class="k" x="242" y="18">[table]</text><text x="5" y="45">...</text><text x="4" y="71">&lt; 2</text><text class="e" x="180" y="71">0 rows</text><text class="e" x="245" y="71">3 &gt;</text></g>
<g id="processos_exp04_2020_3" transform="translate(35,4434)"><use href="#FP0"/><text class="n" x="8" y="18">processos_exp04_2020_3</text><text class="k" x="242" y="18">[table]</text><text x="5" y="45">...</text><text x="4" y="71">&lt; 2</text><text class="e" x="180" y="71">0 rows</text><text class="e" x="245" y="71">3 &gt;</text></g>
<g id="public.processos_exp04_2021" transform="translate(16,4540)"><use href="#FQ"/><text class="n" x="8" y="18">public.processos_exp04_2021</text><text class="k" x="279" y="18">[table]</text><text x="5" y="45">...</text><text x="4" y="71">&lt; 2</text><text class="e" x="208" y="71">0 rows</text><text class="e" x="282" y="71">3 &gt;</text></g>
<g id="processos_exp04_2021_1" transform="translate(35,4645)"><use href="#FPN"/><text class="n" x="8" y="18">processos_exp04_2021_1</text><text class="k" x="242" y="18">[table]</text><text x="5" y="45">...</text><text x="4" y="71">&lt; 2</text><text class="e" x="189" y="71">77,346 rows</text><text class="e" x="245" y="71">3 &gt;</text></g>
<g id="processos_exp04_2021_2" transform="translate(35,4750)"><use href="#FP0"/><text class="n" x="8" y="18">processos_exp04_2021_2</text><text class="k" x="242" y="18">[table]</text><text x="5" y="45">...</text><text x="4" y="71">&lt; 2</text><text class="e" x="180" y="71">0 rows</text><text class="e" x="245" y="71">3 &gt;</text></g>
<g id="processos_exp04_2021_3" transform="translate(35,4856)"><use href="#FP0"/><text class="n" x="8" y="18">processos_exp04_2021_3</text><text class="k" x="242" y="18">[table]</text><text x="5" y="45">...</text><text x="4" y="71">&lt; 2</text><text class="e" x="180" y="71">0 rows</text><text class="e" x="245" y="71">3 &gt;</text></g>
<g id="public.processos_exp04_2022" transform="translate(16,4961)"><use href="#FQ"/><text class="n" x="8" y="18">public.processos_exp04_2022</text><text class="k" x="279" y="18">[table]</text><text x="5" y="45">...</text><text x="4" y="71">&lt; 2</text><text class="e" x="208" y="71">0 rows</text><text class="e" x="282" y="71">3 &gt;</text></g>
<g id="processos_exp04_2022_1" transform="translate(35,5066)"><use href="#FP6"/><text class="n" x="8" y="18">processos_exp04_2022_1</text><text class="k" x="242" y="18">[table]</text><text x="5" y="45">...</text><text x="4" y="71">&lt; 2</text><text class="e" x="189" y="71">150,972 rows</text><text class="e" x="245" y="71">3 &gt;</text></g>
<g id="processos_exp04_2022_2" transform="translate(35,5172)"><use href="#FP0"/><text class="n" x="8" y="18">processos_exp04_2022_2</text><text class="k" x="242" y="18">[table]</text><text x="5" y="45">...</text><text x="4" y="71">&lt; 2</text><text class="e" x="180" y="71">0 rows</text><text class="e" x="245" y="71">3 &gt;</text></g>
<g id="processos_exp04_2022_3" transform="translate(35,5277)"><use href="#FP0"/><text class="n" x="8" y="18">processos_exp04_2022_3</text><text class="k" x="242" y="18">[table]</text><text x="5" y="45">...</text><text x="4" y="71">&lt; 2</text><text class="e" x="180" y="71">0 rows</text><text class="e" x="245" y="71">3 &gt;</text></g>
<g id="public.processos_exp04_2023" transform="translate(16,5382)"><use href="#FQ"/><text class="n" x="8" y="18">public.processos_exp04_2023</text><text class="k" x="279" y="18">[table]</text><text x="5" y="45">...</text><text x="4" y="71">&lt; 2</text><text class="e" x="208" y="71">0 rows</text><text class="e" x="282" y="71">3 &gt;</text></g>
<g id="processos_exp04_2023_1" transform="translate(35,5488)"><use href="#FPN"/><text class="n" x="8" y="18">processos_exp04_2023_1</text><text class="k" x="242" y="18">[table]</text><text x="5" y="45">...</text><text x="4" y="71">&lt; 2</text><text class="e" x="189" y="71">91,743 rows</text><text class="e" x="245" y="71">3 &gt;</text></g>
<g id="processos_exp04_2023_2" transform="translate(35,5593)"><use href="#FP0"/><text class="n" x="8" y="18">processos_exp04_2023_2</text><text class="k" x="242" y="18">[table]</text><text x="5" y="45">...</text><text x="4" y="71">&lt; 2</text><text class="e" x="180" y="71">0 rows</text><text class="e" x="245" y="71">3 &gt;</text></g>

<g id="public.movimentos_exp04">
<rect class="b" x="369" y="2778" width="265" height="195"/>
<rect class="h" x="369" y="2778" width="265" height="30"/>
<path class="s" d="M369,2837H634M369,2867H634M369,2896H634M369,2925H634M369,2949H634M474,2949V2973M558,2949V2973"/>
<use href="#key" x="382" y="2818"/><use href="#key" x="382" y="2847"/><use href="#key" x="382" y="2877"/><use href="#key" x="382" y="2906"/>
<text class="n" x="377" y="2796">public.movimentos_exp04</text><text class="k" x="626" y="2796">[table]</text>
<text x="419" y="2828">processoID</text><text x="419" y="2857">movimentoID</text><text x="419" y="2887">unidadeID</text><text x="419" y="2916">anoPrimeiroMovimento</text>
<text x="373" y="2940">...</text><text x="373" y="2966">&lt; 160</text><text class="e" x="553" y="2966">0 rows</text><text class="e" x="629" y="2966">117 &gt;</text>
</g>

<g id="complementos_exp04_2024_1" transform="translate(761,838)"><use href="#FCN"/><text class="n" x="8" y="18">complementos_exp04_2024_1</text><text class="k" x="282" y="18">[table]</text><text x="5" y="45">...</text><text x="4" y="71">&lt; 3</text><text class="e" x="229" y="71">97,857 rows</text></g>
<g id="complementos_exp04_2024_2" transform="translate(761,943)"><use href="#FC0"/><text class="n" x="8" y="18">complementos_exp04_2024_2</text><text class="k" x="282" y="18">[table]</text><text x="5" y="45">...</text><text x="4" y="71">&lt; 3</text><text class="e" x="220" y="71">0 rows</text></g>
<g id="complementos_exp04_2024_3" transform="translate(761,1049)"><use href="#FC0"/><text class="n" x="8" y="18">complementos_exp04_2024_3</text><text class="k" x="282" y="18">[table]</text><text x="5" y="45">...</text><text x="4" y="71">&lt; 3</text><text class="e" x="220" y="71">0 rows</text></g>
<g id="complementos_exp04_2025_1" transform="translate(761,1154)"><use href="#FC0"/><text class="n" x="8" y="18">complementos_exp04_2025_1</text><text class="k" x="282" y="18">[table]</text><text x="5" y="45">...</text><text x="4" y="71">&lt; 3</text><text class="e" x="220" y="71">12 rows</text></g>
<g id="complementos_exp04_2025_2" transform="translate(761,1259)"><use href="#FC0"/><text class="n" x="8" y="18">complementos_exp04_2025_2</text><text class="k" x="282" y="18">[table]</text><text x="5" y="45">...</text><text x="4" y="71">&lt; 3</text><text class="e" x="220" y="71">0 rows</text></g>
<g id="complementos_exp04_2025_3" transform="translate(761,1365)"><use href="#FC0"/><text class="n" x="8" y="18">complementos_exp04_2025_3</text><text class="k" x="282" y="18">[table]</text><text x="5" y="45">...</text><text x="4" y="71">&lt; 3</text><text class="e" x="220" y="71">0 rows</text></g>
<g id="complementos_exp04_2013_1" transform="translate(761,1470)"><use href="#FC6"/><text class="n" x="8" y="18">complementos_exp04_2013_1</text><text class="k" x="282" y="18">[table]</text><text x="5" y="45">...</text><text x="4" y="71">&lt; 3</text><text class="e" x="229" y="71">100,200 rows</text></g>
<g id="complementos_exp04_2013_2" transform="translate(761,1575)"><use href="#FC0"/><text class="n" x="8" y="18">complementos_exp04_2013_2</text><text class="k" x="282" y="18">[table]</text><text x="5" y="45">...</text><text x="4" y="71">&lt; 3</text><text class="e" x="220" y="71">0 rows</text></g>
<g id="complementos_exp04_2013_3" transform="translate(761,1680)"><use href="#FC0"/><text class="n" x="8" y="18">complementos_exp04_2013_3</text><text class="k" x="282" y="18">[table]</text><text x="5" y="45">...</text><text x="4" y="71">&lt; 3</text><text class="e" x="220" y="71">0 rows</text></g>
<g id="complementos_exp04_2014_1" transform="translate(761,1786)"><use href="#FC4"/><text class="n" x="8" y="18">complementos_exp04_2014_1</text><text class="k" x="282" y="18">[table]</text><text x="5" y="45">...</text><text x="4" y="71">&lt; 3</text><text class="e" x="224" y="71">9,009 rows</text></g>
<g id="complementos_exp04_2014_2" transform="translate(761,1891)"><use href="#FC0"/><text class="n" x="8" y="18">complementos_exp04_2014_2</text><text class="k" x="282" y="18">[table]</text><text x="5" y="45">...</text><text x="4" y="71">&lt; 3</text><text class="e" x="220" y="71">0 rows</text></g>
<g id="complementos_exp04_2014_3" transform="translate(761,1996)"><use href="#FC0"/><text class="n" x="8" y="18">complementos_exp04_2014_3</text><text class="k" x="282" y="18">[table]</text><text x="5" y="45">...</text><text x="4" y="71">&lt; 3</text><text class="e" x="220" y="71">0 rows</text></g>
<g id="complementos_exp04_2015_1" transform="translate(761,2102)"><use href="#FC6"/><text class="n" x="8" y="18">complementos_exp04_2015_1</text><text class="k" x="282" y="18">[table]</text><text x="5" y="45">...</text><text x="4" y="71">&lt; 3</text><text class="e" x="229" y="71">478,981 rows</text></g>
<g id="complementos_exp04_2015_2" transform="translate(761,2207)"><use href="#FC0"/><text class="n" x="8" y="18">complementos_exp04_2015_2</text><text class="k" x="282" y="18">[table]</text><text x="5" y="45">...</text><text x="4" y="71">&lt; 3</text><text class="e" x="220" y="71">0 rows</text></g>
<g id="complementos_exp04_2015_3" transform="translate(761,2312)"><use href="#FC0"/><text class="n" x="8" y="18">complementos_exp04_2015_3</text><text class="k" x="282" y="18">[table]</text><text x="5" y="45">...</text><text x="4" y="71">&lt; 3</text><text class="e" x="220" y="71">0 rows</text></g>
<g id="complementos_exp04_2016_1" transform="translate(761,2418)"><use href="#FC6"/><text class="n" x="8" y="18">complementos_exp04_2016_1</text><text class="k" x="282" y="18">[table]</text><text x="5" y="45">...</text><text x="4" y="71">&lt; 3</text><text class="e" x="229" y="71">952,512 rows</text></g>
<g id="complementos_exp04_2016_2" transform="translate(761,2523)"><use href="#FC0"/><text class="n" x="8" y="18">complementos_exp04_2016_2</text><text class="k" x="282" y="18">[table]</text><text x="5" y="45">...</text><text x="4" y="71">&lt; 3</text><text class="e" x="220" y="71">0 rows</text></g>
<g id="complementos_exp04_2016_3" transform="translate(761,2628)"><use href="#FC0"/><text class="n" x="8" y="18">complementos_exp04_2016_3</text><text class="k" x="282" y="18">[table]</text><text x="5" y="45">...</text><text x="4" y="71">&lt; 3</text><text class="e" x="220" y="71">0 rows</text></g>
<g id="complementos_exp04_2017_1" transform="translate(761,2733)"><use href="#FC6"/><text class="n" x="8" y="18">complementos_exp04_2017_1</text><text class="k" x="282" y="18">[table]</text><text x="5" y="45">...</text><text x="4" y="71">&lt; 3</text><text class="e" x="229" y="71">114,456 rows</text></g>
<g id="complementos_exp04_2017_2" transform="translate(761,2839)"><use href="#FC0"/><text class="n" x="8" y="18">complementos_exp04_2017_2</text><text class="k" x="282" y="18">[table]</text><text x="5" y="45">...</text><text x="4" y="71">&lt; 3</text><text class="e" x="220" y="71">0 rows</text></g>
<g id="complementos_exp04_2017_3" transform="translate(761,2944)"><use href="#FC0"/><text class="n" x="8" y="18">complementos_exp04_2017_3</text><text class="k" x="282" y="18">[table]</text><text x="5" y="45">...</text><text x="4" y="71">&lt; 3</text><text class="e" x="220" y="71">0 rows</text></g>

<g id="complementos_exp04_2018_1">
<rect x="700" y="3052" width="412" height="231" fill="#fff"/>
<rect x="700" y="3052" width="412" height="30" fill="#f4f4f4"/>
<path class="s" d="M700,3082H1112M700,3111H1112M700,3141H1112M700,3170H1112M700,3199H1112M700,3229H1112M700,3258H1112M960,3082V3283M796,3258V3283"/>
<rect x="700" y="3052" width="412" height="231" fill="none" stroke="#111" stroke-width="3"/>
<use href="#key" x="715" y="3121"/><use href="#key" x="715" y="3209"/><use href="#key" x="715" y="3239"/>
<text class="n" x="708" y="3072">complementos_exp04_2018_1</text><text class="k" x="1103" y="3072">[table]</text>
<text x="728" y="3102">complementoID</text><text x="964" y="3102">bigserial[19]</text>
<text x="728" y="3131">movimentoID</text><text x="964" y="3131">int8[19]</text>
<text x="728" y="3161">tipo</text><text x="964" y="3161">varchar[2147483647]</text>
<text x="728" y="3190">descricao</text><text x="964" y="3190">varchar[2147483647]</text>
<text x="728" y="3219">unidadeID</text><text x="964" y="3219">int8[19]</text>
<text x="728" y="3249">anoPrimeiroMovimento</text><text x="964" y="3249">int4[10]</text>
<text x="704" y="3275">&lt; 3</text><text class="e" x="955" y="3275">819,171 rows</text><text class="e" x="1107" y="3275">0 &gt;</text>
</g>

<g id="complementos_exp04_2018_2" transform="translate(761,3313)"><use href="#FC0"/><text class="n" x="8" y="18">complementos_exp04_2018_2</text><text class="k" x="282" y="18">[table]</text><text x="5" y="45">...</text><text x="4" y="71">&lt; 3</text><text class="e" x="220" y="71">0 rows</text></g>
<g id="complementos_exp04_2018_3" transform="translate(761,3418)"><use href="#FC0"/><text class="n" x="8" y="18">complementos_exp04_2018_3</text><text class="k" x="282" y="18">[table]</text><text x="5" y="45">...</text><text x="4" y="71">&lt; 3</text><text class="e" x="220" y="71">0 rows</text></g>
<g id="complementos_exp04_2019_1" transform="translate(761,3524)"><use href="#FC6"/><text class="n" x="8" y="18">complementos_exp04_2019_1</text><text class="k" x="282" y="18">[table]</text><text x="5" y="45">...</text><text x="4" y="71">&lt; 3</text><text class="e" x="229" y="71">181,431 rows</text></g>
<g id="complementos_exp04_2019_2" transform="translate(761,3629)"><use href="#FC0"/><text class="n" x="8" y="18">complementos_exp04_2019_2</text><text class="k" x="282" y="18">[table]</text><text x="5" y="45">...</text><text x="4" y="71">&lt; 3</text><text class="e" x="220" y="71">0 rows</text></g>
<g id="complementos_exp04_2019_3" transform="translate(761,3734)"><use href="#FC0"/><text class="n" x="8" y="18">complementos_exp04_2019_3</text><text class="k" x="282" y="18">[table]</text><text x="5" y="45">...</text><text x="4" y="71">&lt; 3</text><text class="e" x="220" y="71">0 rows</text></g>
<g id="complementos_exp04_2020_1" transform="translate(761,3840)"><use href="#FC6"/><text class="n" x="8" y="18">complementos_exp04_2020_1</text><text class="k" x="282" y="18">[table]</text><text x="5" y="45">...</text><text x="4" y="71">&lt; 3</text><text class="e" x="229" y="71">148,962 rows</text></g>
<g id="complementos_exp04_2020_2" transform="translate(761,3945)"><use href="#FC0"/><text class="n" x="8" y="18">complementos_exp04_2020_2</text><text class="k" x="282" y="18">[table]</text><text x="5" y="45">...</text><text x="4" y="71">&lt; 3</text><text class="e" x="220" y="71">0 rows</text></g>
<g id="complementos_exp04_2020_3" transform="translate(761,4050)"><use href="#FC0"/><text class="n" x="8" y="18">complementos_exp04_2020_3</text><text class="k" x="282" y="18">[table]</text><text x="5" y="45">...</text><text x="4" y="71">&lt; 3</text><text class="e" x="220" y="71">0 rows</text></g>
<g id="complementos_exp04_2021_1" transform="translate(761,4155)"><use href="#FC6"/><text class="n" x="8" y="18">complementos_exp04_2021_1</text><text class="k" x="282" y="18">[table]</text><text x="5" y="45">...</text><text x="4" y="71">&lt; 3</text><text class="e" x="229" y="71">227,202 rows</text></g>
<g id="complementos_exp04_2021_2" transform="translate(761,4261)"><use href="#FC0"/><text class="n" x="8" y="18">complementos_exp04_2021_2</text><text class="k" x="282" y="18">[table]</text><text x="5" y="45">...</text><text x="4" y="71">&lt; 3</text><text class="e" x="220" y="71">0 rows</text></g>
<g id="complementos_exp04_2021_3" transform="translate(761,4366)"><use href="#FC0"/><text class="n" x="8" y="18">complementos_exp04_2021_3</text><text class="k" x="282" y="18">[table]</text><text x="5" y="45">...</text><text x="4" y="71">&lt; 3</text><text class="e" x="220" y="71">0 rows</text></g>
<g id="complementos_exp04_2022_1" transform="translate(761,4471)"><use href="#FC6"/><text class="n" x="8" y="18">complementos_exp04_2022_1</text><text class="k" x="282" y="18">[table]</text><text x="5" y="45">...</text><text x="4" y="71">&lt; 3</text><text class="e" x="229" y="71">304,406 rows</text></g>
<g id="complementos_exp04_2022_2" transform="translate(761,4577)"><use href="#FC0"/><text class="n" x="8" y="18">complementos_exp04_2022_2</text><text class="k" x="282" y="18">[table]</text><text x="5" y="45">...</text><text x="4" y="71">&lt; 3</text><text class="e" x="220" y="71">0 rows</text></g>
<g id="complementos_exp04_2022_3" transform="translate(761,4682)"><use href="#FC0"/><text class="n" x="8" y="18">complementos_exp04_2022_3</text><text class="k" x="282" y="18">[table]</text><text x="5" y="45">...</text><text x="4" y="71">&lt; 3</text><text class="e" x="220" y="71">0 rows</text></g>
<g id="complementos_exp04_2023_1" transform="translate(761,4787)"><use href="#FC6"/><text class="n" x="8" y="18">complementos_exp04_2023_1</text><text class="k" x="282" y="18">[table]</text><text x="5" y="45">...</text><text x="4" y="71">&lt; 3</text><text class="e" x="229" y="71">203,394 rows</text></g>
<g id="complementos_exp04_2023_2" transform="translate(761,4892)"><use href="#FC0"/><text class="n" x="8" y="18">complementos_exp04_2023_2</text><text class="k" x="282" y="18">[table]</text><text x="5" y="45">...</text><text x="4" y="71">&lt; 3</text><text class="e" x="220" y="71">0 rows</text></g>
<g id="complementos_exp04_2023_3" transform="translate(761,4998)"><use href="#FC0"/><text class="n" x="8" y="18">complementos_exp04_2023_3</text><text class="k" x="282" y="18">[table]</text><text x="5" y="45">...</text><text x="4" y="71">&lt; 3</text><text class="e" x="220" y="71">0 rows</text></g>
</g>
<text x="17" y="5708" style="fill:#333">Generated by SchemaSpy</text>
</g>
</svg>
